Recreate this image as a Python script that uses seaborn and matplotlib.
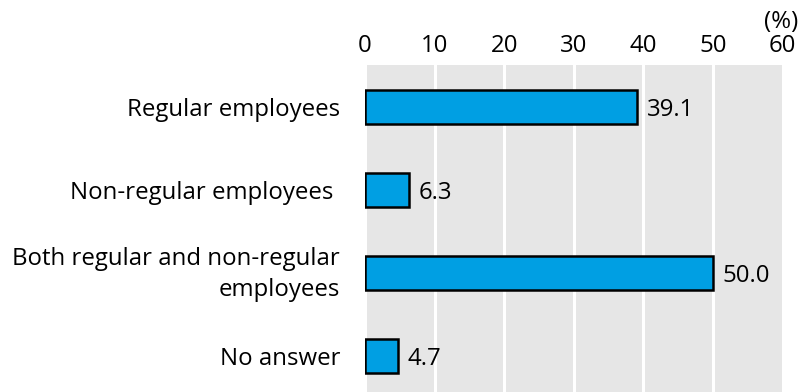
import matplotlib
matplotlib.use("Agg")
import matplotlib.pyplot as plt
import matplotlib.transforms as mtransforms
import seaborn as sns
import pandas as pd

categories = [
    "Regular employees",
    "Non-regular employees ",
    "Both regular and non-regular\nemployees",
    "No answer",
]
values = [39.1, 6.3, 50.0, 4.7]
x_ticks = [0, 10, 20, 30, 40, 50, 60]

plt.rcParams["font.family"] = ["Open Sans", "DejaVu Sans"]

df = pd.DataFrame({"category": categories, "value": values})

fig = plt.figure(figsize=(8.01, 3.92), dpi=100)
ax = fig.add_axes([365 / 801, 0, (782.7 - 365) / 801, (392 - 65) / 392])
ax.set_facecolor("#e6e6e6")

sns.barplot(
    data=df, x="value", y="category", orient="h", ax=ax,
    color="#009fe3", saturation=1, width=0.41,
    edgecolor="black", linewidth=1.8, zorder=3,
)

ax.set_xlim(0, 60)
ax.set_ylim(3.43, -0.5)
ax.set_xticks(x_ticks)
ax.xaxis.tick_top()
ax.tick_params(axis="x", length=0, pad=5, labelsize=17.3)
ax.set_yticks(range(len(categories)))
ax.set_yticklabels([])
ax.tick_params(axis="y", length=0)

# Category labels, right-aligned against the plot area
label_offset = mtransforms.ScaledTranslation(-25 / 100, 0, fig.dpi_scale_trans)
for i, name in enumerate(categories):
    ax.text(0, i - (0.06 if "\n" in name else 0), name,
            transform=ax.get_yaxis_transform() + label_offset,
            ha="right", va="center_baseline", ma="right", linespacing=1.4,
            fontsize=17.3)

ax.grid(axis="x", color="white", linewidth=2.2, zorder=1)
ax.set_axisbelow(True)
ax.set_xlabel("")
ax.set_ylabel("")
for s in ax.spines.values():
    s.set_visible(False)

for i, v in enumerate(values):
    ax.text(v + 1.4, i, f"{v:.1f}", va="center_baseline", ha="left",
            fontsize=17.3, zorder=4)

fig.text(781 / 801, 1 - 22 / 392, "(%)", ha="center", va="center", fontsize=17.3)

fig.savefig("out.png", dpi=100)
